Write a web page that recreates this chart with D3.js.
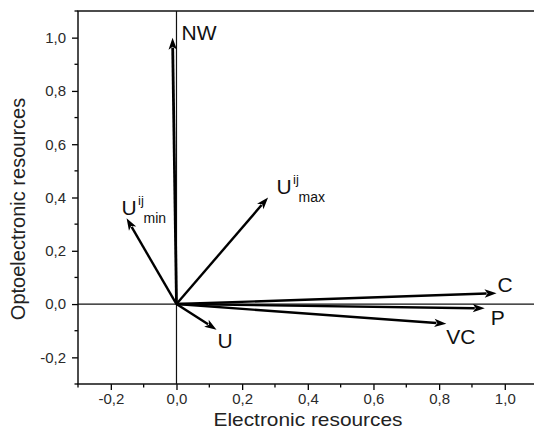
<!DOCTYPE html>
<html>
<head>
<meta charset="utf-8">
<script src="https://cdn.jsdelivr.net/npm/d3@7"></script>
<style>
html,body{margin:0;padding:0;background:#fff;}
svg{display:block;}
text{font-family:"Liberation Sans",Arial,sans-serif;}
</style>
</head>
<body>
<svg id="chart" width="534" height="444"></svg>
<script>
// ---- data ----
const vectorNames = ["NW", "Umax", "Umin", "U", "C", "P", "VC"];
const vectorX = [-0.012, 0.279, -0.152, 0.122, 0.975, 0.939, 0.822];
const vectorY = [1.0, 0.40, 0.322, -0.096, 0.041, -0.016, -0.074];
const xTickValues = [-0.2, 0.0, 0.2, 0.4, 0.6, 0.8, 1.0];
const yTickValues = [-0.2, 0.0, 0.2, 0.4, 0.6, 0.8, 1.0];
const xTitle = "Electronic resources";
const yTitle = "Optoelectronic resources";

// label text parts: main, superscript, subscript
const labelParts = {
  NW: ["NW", "", ""],
  Umax: ["U", "ij", "max"],
  Umin: ["U", "ij", "min"],
  U: ["U", "", ""],
  C: ["C", "", ""],
  P: ["P", "", ""],
  VC: ["VC", "", ""]
};
// label placement (px offsets from arrow tip)
const labelOffset = {
  NW: [9, 2], Umax: [8.5, -4], Umin: [-5, -3], U: [1, 18],
  C: [1, -1], P: [6, 17], VC: [0, 20]
};

const svg = d3.select("#chart");
const mLeft = 78, mTop = 11, mBottom = 384;
const x = d3.scaleLinear().domain([-0.3, 1.1]).range([mLeft, mLeft + 1.4 * 328.3]);
const y = d3.scaleLinear().domain([-0.3, 1.1]).range([mBottom, mTop]);
const W = 534;
const fmt = d => d3.format(".1f")(d).replace(".", ",").replace("−", "-");

// minor ticks
const minorX = d3.range(-0.3, 1.101, 0.1).map(v => +v.toFixed(2)).filter(v => !xTickValues.some(t => Math.abs(t - v) < 1e-6));
const minorY = d3.range(-0.3, 1.101, 0.1).map(v => +v.toFixed(2)).filter(v => !yTickValues.some(t => Math.abs(t - v) < 1e-6));

const xAxis = d3.axisBottom(x).tickValues(xTickValues).tickFormat(fmt).tickSize(6).tickPadding(3);
const gx = svg.append("g").attr("transform", `translate(0,${mBottom})`).call(xAxis);
gx.select(".domain").remove();
gx.append("g").selectAll("line").data(minorX).join("line")
  .attr("x1", d => x(d)).attr("x2", d => x(d)).attr("y1", 0).attr("y2", 3.5)
  .attr("stroke", "#000").attr("stroke-width", 1.3);
gx.selectAll(".tick line").attr("stroke", "#000").attr("stroke-width", 1.3);
gx.selectAll(".tick text").attr("font-size", 15).attr("fill", "#2a2a2a").attr("font-family", "Liberation Sans, Arial, sans-serif");

const yAxis = d3.axisLeft(y).tickValues(yTickValues).tickFormat(fmt).tickSize(6).tickPadding(6);
const gy = svg.append("g").attr("transform", `translate(${mLeft},0)`).call(yAxis);
gy.select(".domain").remove();
gy.append("g").selectAll("line").data(minorY).join("line")
  .attr("x1", 0).attr("x2", -3.5).attr("y1", d => y(d)).attr("y2", d => y(d))
  .attr("stroke", "#000").attr("stroke-width", 1.3);
gy.selectAll(".tick line").attr("stroke", "#000").attr("stroke-width", 1.3);
gy.selectAll(".tick text").attr("font-size", 15).attr("fill", "#2a2a2a").attr("font-family", "Liberation Sans, Arial, sans-serif");

// frame lines
svg.append("line").attr("x1", mLeft).attr("x2", mLeft).attr("y1", mTop).attr("y2", mBottom).attr("stroke", "#111").attr("stroke-width", 1.5);
svg.append("line").attr("x1", mLeft - 0.7).attr("x2", W).attr("y1", mBottom).attr("y2", mBottom).attr("stroke", "#111").attr("stroke-width", 1.5);
svg.append("line").attr("x1", mLeft - 0.7).attr("x2", W).attr("y1", mTop).attr("y2", mTop).attr("stroke", "#111").attr("stroke-width", 1.5);
// zero lines
svg.append("line").attr("x1", x(0)).attr("x2", x(0)).attr("y1", mTop).attr("y2", mBottom).attr("stroke", "#111").attr("stroke-width", 1.2);
svg.append("line").attr("x1", mLeft).attr("x2", W).attr("y1", y(0)).attr("y2", y(0)).attr("stroke", "#111").attr("stroke-width", 1.2);

// arrows
const ox = x(0), oy = y(0);
const headLen = 12, headW = 4.2;
const g = svg.append("g");
vectorNames.forEach((name, i) => {
  const tx = x(vectorX[i]), ty = y(vectorY[i]);
  const dx = tx - ox, dy = ty - oy, L = Math.hypot(dx, dy);
  const ux = dx / L, uy = dy / L, px = -uy, py = ux;
  const bx = tx - ux * headLen, by = ty - uy * headLen;
  g.append("line").attr("x1", ox).attr("y1", oy)
    .attr("x2", tx - ux * (headLen - 2)).attr("y2", ty - uy * (headLen - 2))
    .attr("stroke", "#000").attr("stroke-width", name === "NW" ? 2.8 : 2.4);
  g.append("path")
    .attr("d", `M${tx},${ty}L${bx + px * headW},${by + py * headW}L${bx + ux * 3},${by + uy * 3}L${bx - px * headW},${by - py * headW}Z`)
    .attr("fill", "#000");
  const [lx, ly] = labelOffset[name];
  const [mainT, supT, subT] = labelParts[name];
  const X = tx + lx, Y = ty + ly;
  g.append("text").attr("x", X).attr("y", Y).attr("font-size", 21).attr("fill", "#111").text(mainT);
  if (supT) g.append("text").attr("x", X + 16.5).attr("y", Y - 10).attr("font-size", 13).attr("fill", "#111").text(supT);
  if (subT) g.append("text").attr("x", X + 22).attr("y", Y + 8).attr("font-size", 14).attr("fill", "#111").text(subT);
});

// axis titles
svg.append("text").attr("x", 308).attr("y", 425.5).attr("text-anchor", "middle")
  .attr("font-size", 19).attr("fill", "#222").attr("textLength", 189).attr("lengthAdjust", "spacingAndGlyphs").text(xTitle);
svg.append("text").attr("transform", "translate(25,209) rotate(-90)").attr("text-anchor", "middle")
  .attr("font-size", 20).attr("fill", "#222").text(yTitle);
</script>
</body>
</html>
